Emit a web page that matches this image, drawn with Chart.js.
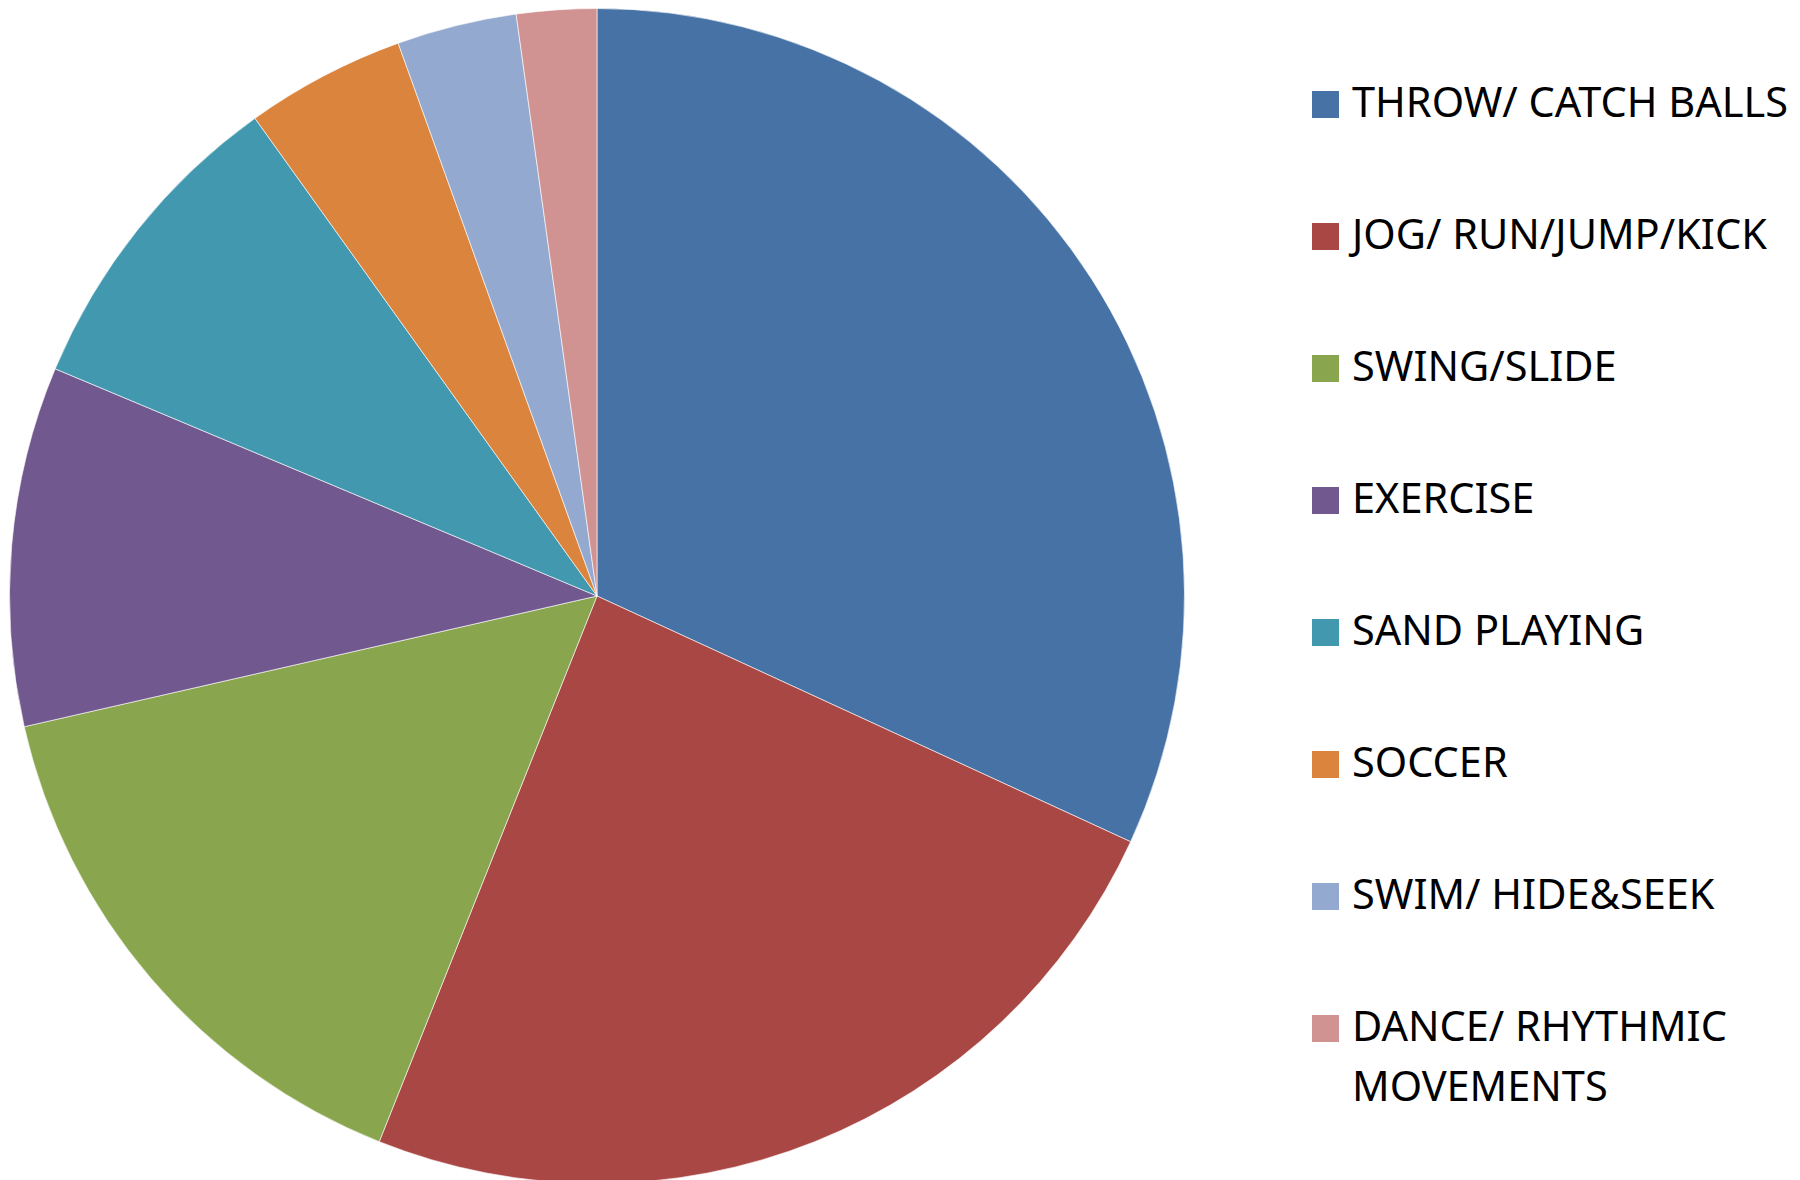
<!DOCTYPE html>
<html>
<head>
<meta charset="utf-8">
<script src="https://cdn.jsdelivr.net/npm/chart.js@4.4.1/dist/chart.umd.min.js"></script>
<style>
  html, body { margin: 0; padding: 0; background: #fff; overflow: hidden; }
  #wrap { position: relative; width: 1800px; height: 1180px; }
  #box { position: absolute; left: 9px; top: 8px; width: 1176px; height: 1176px; }
  #legenda { position: absolute; left: 1312px; top: 0; width: 488px; }
  .voce { position: absolute; left: 0; display: flex; align-items: flex-start; white-space: nowrap;
          font-family: "Noto Sans", sans-serif; font-size: 41.5px; line-height: 60px; color: #000; }
  .quadrato { width: 27px; height: 27px; margin-top: 20px; margin-right: 13px; flex: none; }
  .testo { white-space: pre; }
</style>
</head>
<body>
<div id="wrap">
  <div id="box"><canvas id="graficoTorta"></canvas></div>
  <div id="legenda"></div>
</div>
<script>
// categorie e valori
const categorie = [
  'THROW/ CATCH BALLS',
  'JOG/ RUN/JUMP/KICK',
  'SWING/SLIDE',
  'EXERCISE',
  'SAND PLAYING',
  'SOCCER',
  'SWIM/ HIDE&SEEK',
  'DANCE/ RHYTHMIC\nMOVEMENTS'
];
const valori = [29, 22, 14, 9, 8, 4, 3, 2];
const colori = ['#4672A6', '#A94745', '#89A54E', '#71588F', '#4198AF', '#DB843D', '#93A9CF', '#D19392'];

// legenda html (serve per l'etichetta su due righe)
function disegnaLegenda() {
    const legenda = document.getElementById('legenda');
    categorie.forEach((nome, i) => {
        const voce = document.createElement('div');
        voce.className = 'voce';
        voce.style.top = (103.5 + 132 * i - 33) + 'px';
        const q = document.createElement('div');
        q.className = 'quadrato';
        q.style.background = colori[i];
        const t = document.createElement('div');
        t.className = 'testo';
        t.textContent = nome;
        voce.appendChild(q);
        voce.appendChild(t);
        legenda.appendChild(voce);
    });
}

const ctx = document.getElementById('graficoTorta').getContext('2d');
new Chart(ctx, {
    type: 'pie',
    data: {
        labels: categorie,
        datasets: [{
            data: valori,
            backgroundColor: colori,
            borderColor: 'rgba(255,255,255,0.6)',
            borderWidth: 1
        }]
    },
    options: {
        responsive: true,
        maintainAspectRatio: false,
        animation: false,
        layout: { padding: 0 },
        plugins: {
            legend: { display: false },
            tooltip: { enabled: false }
        }
    }
});

disegnaLegenda();
</script>
</body>
</html>
